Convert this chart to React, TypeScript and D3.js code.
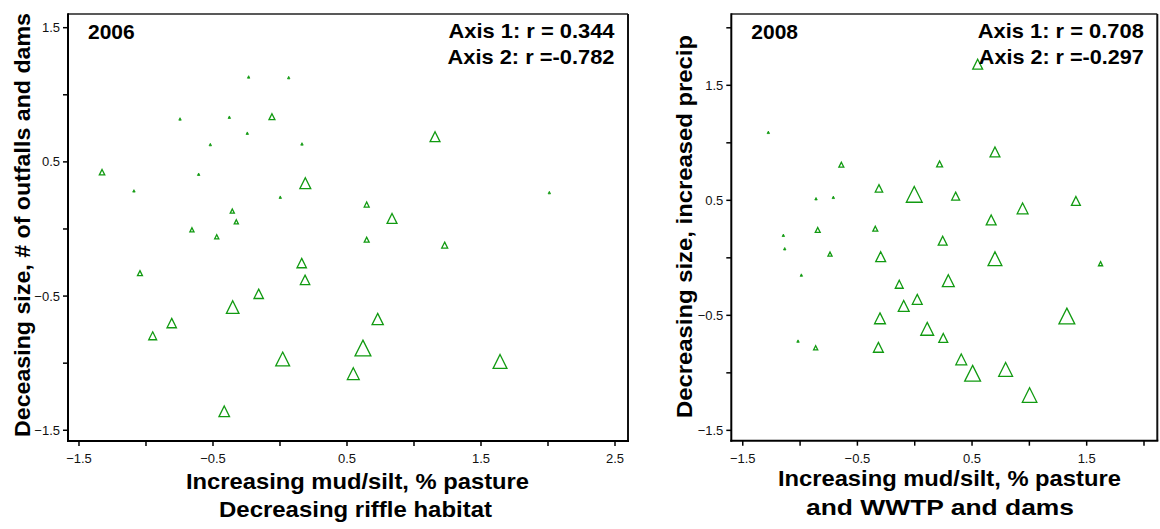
import React from "react";
import * as d3 from "d3";

// ---------- DATA ----------
// 2006 panel: axis-1 score, axis-2 score, relative size (0-1)
const x2006 = [-0.234, 0.065, -0.746, -0.378, -0.06, -0.244, -0.52, 0.164, -1.328, -0.607, -1.09, 0.189, 0.002, -0.356, -0.326, -0.657, -0.472, 1.157, 2.01, 0.647, 0.836, 0.647, 1.229, 0.162, 0.187, -1.045, -0.159, -0.353, -0.808, -0.95, 0.02, -0.416, 0.729, 0.619, 0.547, 1.642];
const y2006 = [1.133, 1.128, 0.82, 0.833, 0.837, 0.714, 0.629, 0.634, 0.423, 0.408, 0.284, 0.341, 0.237, 0.133, 0.053, -0.006, -0.058, 0.688, 0.271, 0.182, 0.078, -0.08, -0.12, -0.254, -0.379, -0.329, -0.483, -0.582, -0.701, -0.796, -0.969, -1.359, -0.671, -0.887, -1.078, -0.987];
const s2006 = [0.15, 0.15, 0.15, 0.15, 0.36, 0.15, 0.15, 0.15, 0.33, 0.15, 0.15, 0.66, 0.15, 0.25, 0.25, 0.25, 0.25, 0.6, 0.15, 0.3, 0.6, 0.3, 0.36, 0.57, 0.57, 0.3, 0.57, 0.76, 0.57, 0.48, 0.84, 0.64, 0.68, 0.96, 0.72, 0.84];

// 2008 panel
const x2008 = [0.549, -1.277, -0.64, 0.217, 0.7, -0.312, -0.861, -0.71, -0.004, 0.357, 0.941, 1.406, 0.667, 0.244, -0.846, -0.344, -1.146, -1.134, -0.739, -0.297, 0.7, 1.621, -0.989, 0.293, -0.135, 0.022, -0.096, -0.303, 0.109, 0.249, 1.327, -1.018, -0.864, -0.317, 0.406, 0.505, 0.793, 1.002];
const y2008 = [1.683, 1.091, 0.81, 0.816, 0.92, 0.604, 0.514, 0.526, 0.552, 0.537, 0.43, 0.494, 0.329, 0.149, 0.242, 0.253, 0.196, 0.079, 0.033, 0.01, -0.008, -0.051, -0.15, -0.199, -0.23, -0.361, -0.419, -0.526, -0.617, -0.697, -0.506, -0.724, -0.782, -0.778, -0.883, -1.004, -0.97, -1.193];
const s2008 = [0.6, 0.15, 0.3, 0.36, 0.6, 0.45, 0.15, 0.15, 0.96, 0.48, 0.66, 0.54, 0.6, 0.54, 0.3, 0.3, 0.15, 0.15, 0.25, 0.6, 0.84, 0.25, 0.15, 0.72, 0.48, 0.6, 0.66, 0.66, 0.78, 0.54, 0.96, 0.15, 0.25, 0.6, 0.66, 0.96, 0.84, 0.88];

const yearLabels = ["2006", "2008"];
const axis1R = ["0.344", "0.708"];
const axis2R = ["-0.782", "-0.297"];
const yTitles = ["Deceasing size, # of outfalls and dams", "Decreasing size, increased precip"];
const xTitles = [
  ["Increasing mud/silt, % pasture", "Decreasing riffle habitat"],
  ["Increasing mud/silt, % pasture", "and WWTP and dams"],
];
const xLabelTicks = [[-1.5, -0.5, 0.5, 1.5, 2.5], [-1.5, -0.5, 0.5, 1.5]];
const xAllTicks = [[-1.5, -1, -0.5, 0, 0.5, 1, 1.5, 2, 2.5], [-1.5, -1, -0.5, 0, 0.5, 1, 1.5, 2]];
const yLabelTicks = [[-1.5, -0.5, 0.5, 1.5], [-1.5, -0.5, 0.5, 1.5]];
const yAllTicks = [[-1.5, -1, -0.5, 0, 0.5, 1, 1.5], [-1.5, -1, -0.5, 0, 0.5, 1, 1.5, 2]];

const GREEN = "#119a11";
const FONT = "'Liberation Sans', Arial, sans-serif";

type PanelCfg = {
  left: number; right: number; top: number; bottom: number;
  xDom: [number, number]; yDom: [number, number];
  xs: number[]; ys: number[]; ss: number[];
  idx: number;
  yTitleX: number; yTitleY: number; yTitleLen: number;
  xTitleX1: number; xTitleX2: number; xTitleY1: number; xTitleY2: number;
  xTitleLen1: number; xTitleLen2: number;
  rLen1: number; rLen2: number;
};

const sizeScale = d3.scaleLinear().domain([0, 1]).range([0, 16.5]);

function tri(s: number) {
  const h = s / 2;
  return `M0,${-h}L${h},${h}L${-h},${h}Z`;
}

function Panel(p: PanelCfg) {
  const x = d3.scaleLinear().domain(p.xDom).range([p.left, p.right]);
  const y = d3.scaleLinear().domain(p.yDom).range([p.bottom, p.top]);
  const fmt = (v: number) => d3.format(".1f")(v);
  const pts = p.xs.map((v, i) => ({ x: v, y: p.ys[i], s: p.ss[i] }));
  return (
    <g>
      {/* points */}
      {pts.map((d, i) => {
        const s = sizeScale(d.s);
        const tiny = s < 3;
        return (
          <path
            key={i}
            d={tri(s)}
            transform={`translate(${x(d.x)},${y(d.y)})`}
            fill={tiny ? GREEN : "none"}
            stroke={GREEN}
            strokeWidth={tiny ? 0.8 : 1.3}
          />
        );
      })}
      {/* frame */}
      <line x1={p.left} x2={p.right} y1={p.top} y2={p.top} stroke="#222" strokeWidth={1.5} />
      <line x1={p.right} x2={p.right} y1={p.top} y2={p.bottom} stroke="#111" strokeWidth={2} />
      <line x1={p.left} x2={p.left} y1={p.top - 0.75} y2={p.bottom + 1} stroke="#000" strokeWidth={2} />
      <line x1={p.left - 1} x2={p.right + 1} y1={p.bottom} y2={p.bottom} stroke="#000" strokeWidth={2} />
      {/* x ticks */}
      {xAllTicks[p.idx].map((t) => (
        <line key={"xt" + t} x1={x(t)} x2={x(t)} y1={p.bottom} y2={p.bottom + 5} stroke="#000" strokeWidth={1.5} />
      ))}
      {xLabelTicks[p.idx].map((t) => (
        <text key={"xl" + t} x={x(t)} y={p.bottom + 22} textAnchor="middle" fontFamily={FONT} fontSize={13} fill="#111">
          {fmt(t)}
        </text>
      ))}
      {/* y ticks */}
      {yAllTicks[p.idx].map((t) => (
        <line key={"yt" + t} x1={p.left - 5} x2={p.left} y1={y(t)} y2={y(t)} stroke="#000" strokeWidth={1.5} />
      ))}
      {yLabelTicks[p.idx].map((t) => (
        <text key={"yl" + t} x={p.left - 8} y={y(t) + 4.5} textAnchor="end" fontFamily={FONT} fontSize={13} fill="#111">
          {fmt(t)}
        </text>
      ))}
      {/* annotations */}
      <text x={p.left + 20} y={p.top + 25} fontFamily={FONT} fontWeight="bold" fontSize={21} fill="#000">
        {yearLabels[p.idx]}
      </text>
      <text x={p.right - 13.5} y={p.top + 23.5} textAnchor="end" fontFamily={FONT} fontWeight="bold" fontSize={21} fill="#000"
        textLength={p.rLen1} lengthAdjust="spacingAndGlyphs">
        {`Axis 1: r = ${axis1R[p.idx]}`}
      </text>
      <text x={p.right - 13.5} y={p.top + 49.5} textAnchor="end" fontFamily={FONT} fontWeight="bold" fontSize={21} fill="#000"
        textLength={p.rLen2} lengthAdjust="spacingAndGlyphs">
        {`Axis 2: r =${axis2R[p.idx]}`}
      </text>
      {/* titles */}
      <text
        transform={`translate(${p.yTitleX},${p.yTitleY}) rotate(-90)`}
        textAnchor="middle"
        fontFamily={FONT}
        fontWeight="bold"
        fontSize={22}
        fill="#000"
        textLength={p.yTitleLen}
        lengthAdjust="spacingAndGlyphs"
      >
        {yTitles[p.idx]}
      </text>
      <text x={p.xTitleX1} y={p.xTitleY1} textAnchor="middle" fontFamily={FONT} fontWeight="bold" fontSize={22} fill="#000"
        textLength={p.xTitleLen1} lengthAdjust="spacingAndGlyphs">
        {xTitles[p.idx][0]}
      </text>
      <text x={p.xTitleX2} y={p.xTitleY2} textAnchor="middle" fontFamily={FONT} fontWeight="bold" fontSize={22} fill="#000"
        textLength={p.xTitleLen2} lengthAdjust="spacingAndGlyphs">
        {xTitles[p.idx][1]}
      </text>
    </g>
  );
}

export default function App() {
  return (
    <svg
      width={1160}
      height={529}
      style={{ position: "absolute", left: 0, top: 0, background: "#fff" }}
    >
      <rect width={1160} height={529} fill="#fff" />
      <Panel
        left={68} right={628} top={14} bottom={441}
        xDom={[-1.582, 2.597]} yDom={[-1.58, 1.602]}
        xs={x2006} ys={y2006} ss={s2006} idx={0}
        yTitleX={29.5} yTitleY={225} yTitleLen={424}
        xTitleX1={357.5} xTitleX2={355.5} xTitleY1={489} xTitleY2={517}
        xTitleLen1={343} xTitleLen2={273}
        rLen1={166} rLen2={167}
      />
      <Panel
        left={731.3} right={1157.3} top={14} bottom={440.7}
        xDom={[-1.6, 2.116]} yDom={[-1.59, 2.12]}
        xs={x2008} ys={y2008} ss={s2008} idx={1}
        yTitleX={691.5} yTitleY={226.5} yTitleLen={383}
        xTitleX1={949.4} xTitleX2={940} xTitleY1={486} xTitleY2={515}
        xTitleLen1={343} xTitleLen2={268}
        rLen1={166} rLen2={165}
      />
    </svg>
  );
}
